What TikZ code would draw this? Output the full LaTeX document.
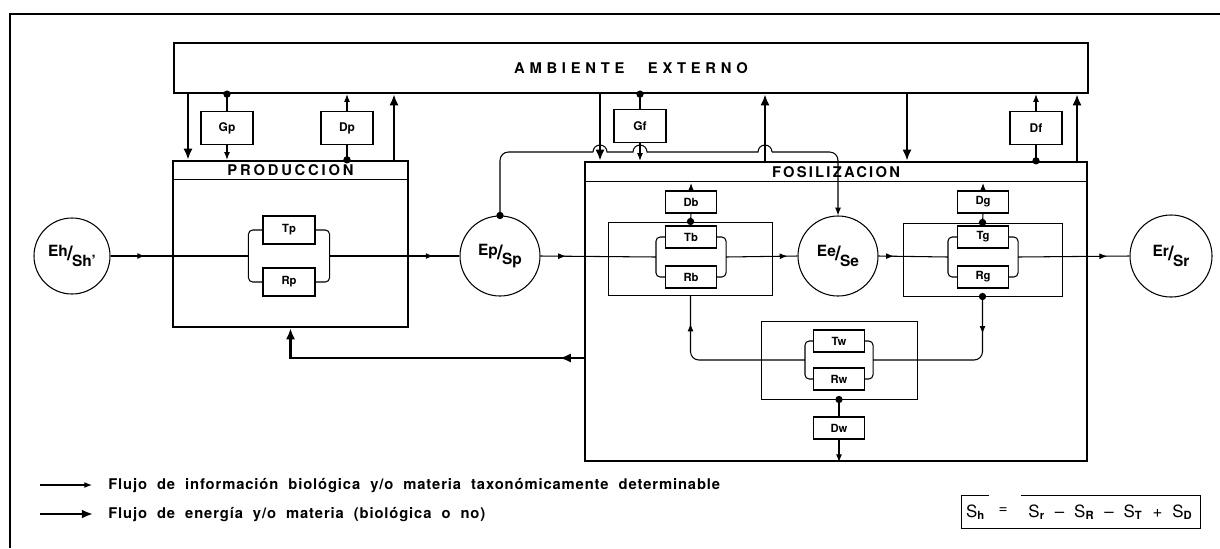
\documentclass[tikz,border=0pt]{standalone}
\usepackage{fontspec}
\setmainfont{TeX Gyre Heros}
\newfontfamily\legendfont{TeX Gyre Heros}[LetterSpace=6,WordSpace=2.0]
\usetikzlibrary{arrows.meta,calc,decorations.markings}

\newcommand{\ratio}[2]{\raisebox{3pt}{#1}\kern-0.5pt{\Large/}\kern-0.5pt\raisebox{-4pt}{#2}}
\newcommand{\headfont}[1]{\fontsize{10.5}{12}\selectfont\bfseries\addfontfeature{LetterSpace=#1}}

\begin{document}
\begin{tikzpicture}[x=0.025cm,y=-0.025cm,
  heavy/.style={line width=1.6pt},
  light/.style={line width=0.75pt},
  sysbox/.style={draw,heavy,inner sep=0pt},
  groupbox/.style={draw,line width=0.7pt,inner sep=0pt},
  ctrlbox/.style={draw,light,fill=white,minimum width=1.3cm,minimum height=0.825cm,
    font=\fontsize{8.5}{9}\selectfont\bfseries},
  subbox/.style={draw,light,fill=white,minimum width=1.275cm,minimum height=0.55cm,
    font=\fontsize{8}{9}\selectfont\bfseries},
  stock/.style={draw,light,circle,minimum size=2cm,inner sep=0pt,
    font=\fontsize{11}{12}\selectfont\bfseries},
  info/.style={light,-{Latex[length=5.5pt,width=4.2pt]}},
  energy/.style={heavy,-{Latex[length=8pt,width=6.5pt]}},
  infotip/.style={postaction={decorate,decoration={markings,
    mark=at position #1 with {\arrow{Latex[length=5.5pt,width=4.2pt]}}}}},
  energytip/.style={postaction={decorate,decoration={markings,
    mark=at position #1 with {\arrow{Latex[length=8pt,width=6.5pt]}}}}},
]
\useasboundingbox (0,0) rectangle (1220,548);
\draw[light] (10,548) -- (10,14) -- (1220,14);

% main blocks
\node[sysbox,minimum width=22.85cm,minimum height=1.25cm,font=\headfont{32}]
  (amb) at (631,68) {AMBIENTE\hspace{1.6em}EXTERNO};
\node[sysbox,minimum width=5.875cm,minimum height=4.15cm] (prod) at (290.5,244) {};
\node[sysbox,minimum width=12.55cm,minimum height=7.475cm] (fos) at (836,311.5) {};
\draw[light] ($(prod.north west)+(0,20)$) -- ($(prod.north east)+(0,20)$);
\draw[light] ($(fos.north west)+(0,21)$) -- ($(fos.north east)+(0,21)$);
\node[font=\headfont{19}] (prodtxt) at ($(prod.north)+(0,10)$) {PRODUCCION};
\node[font=\headfont{15}] (fostxt) at ($(fos.north)+(0,11)$) {FOSILIZACION};
\coordinate (fhead) at (0,183);

% control boxes
\node[ctrlbox] (Gp) at (227,128) {Gp};
\node[ctrlbox] (Dp) at (347,128) {Dp};
\node[ctrlbox] (Gf) at (640,126) {Gf};
\node[ctrlbox] (Df) at (1036,128) {Df};

% stocks
\node[stock,minimum size=1.9cm] (Eh) at (72,256) {\ratio{Eh}{Sh'}};
\node[stock] (Ep) at (500,256) {\ratio{Ep}{Sp}};
\node[stock] (Ee) at (838,256) {\ratio{Ee}{Se}};
\node[stock,minimum size=2.05cm] (Er) at (1171,256) {\ratio{Er}{Sr}};

% produccion interior
\node[subbox,minimum width=1.3cm,minimum height=0.7cm] (Tp) at (289,230) {Tp};
\node[subbox,minimum width=1.3cm,minimum height=0.7cm] (Rp) at (289,282) {Rp};

% fosilizacion interior
\node[groupbox,minimum width=4.075cm,minimum height=1.825cm] (bbox) at (690.5,258.5) {};
\node[subbox] (Db) at (691,202) {Db};
\node[subbox] (Tb) at (691,237) {Tb};
\node[subbox] (Rb) at (691,277) {Rb};
\node[groupbox,minimum width=3.975cm,minimum height=1.825cm] (gbox) at (982.5,259.5) {};
\node[subbox] (Dg) at (983,202) {Dg};
\node[subbox] (Tg) at (983,237) {Tg};
\node[subbox] (Rg) at (983,277) {Rg};
\node[groupbox,minimum width=3.9cm,minimum height=1.95cm] (wbox) at (839,360) {};
\node[subbox] (Tw) at (839,341) {Tw};
\node[subbox] (Rw) at (839,379) {Rw};
\node[subbox] (Dw) at (839,428) {Dw};

% parallel branches
\draw[light,rounded corners=3pt] (Tp.west) -- ++(-14,0) |- (Rp.west);
\draw[light,rounded corners=3pt] (Tp.east) -- ++(14,0) |- (Rp.east);
\draw[light,rounded corners=3pt] (Tb.west) -- ++(-9,0) |- (Rb.west);
\draw[light,rounded corners=3pt] (Tb.east) -- ++(9,0) |- (Rb.east);
\draw[light,rounded corners=3pt] (Tg.west) -- ++(-9,0) |- (Rg.west);
\draw[light,rounded corners=3pt] (Tg.east) -- ++(9,0) |- (Rg.east);
\draw[light,rounded corners=3pt] (Tw.west) -- ++(-8,0) |- (Rw.west);
\draw[light,rounded corners=3pt] (Tw.east) -- ++(8,0) |- (Rw.east);
\coordinate (pL) at ($(Tp.west)!0.5!(Rp.west)+(-14,0)$);
\coordinate (pR) at ($(Tp.east)!0.5!(Rp.east)+(14,0)$);
\coordinate (bL) at ($(Tb.west)!0.5!(Rb.west)+(-9,0)$);
\coordinate (bR) at ($(Tb.east)!0.5!(Rb.east)+(9,0)$);
\coordinate (gL) at ($(Tg.west)!0.5!(Rg.west)+(-9,0)$);
\coordinate (gR) at ($(Tg.east)!0.5!(Rg.east)+(9,0)$);
\coordinate (wL) at ($(Tw.west)!0.5!(Rw.west)+(-8,0)$);
\coordinate (wR) at ($(Tw.east)!0.5!(Rw.east)+(8,0)$);

% main flow
\draw[light,infotip=0.25] (Eh.east) -- (pL);
\draw[light,infotip=0.8] (pR) -- (Ep.west);
\draw[light,infotip=0.22] (Ep.east) -- (bL);
\draw[light,infotip=0.86] (bR) -- (Ee.west);
\draw[light,infotip=0.22] (Ee.east) -- (gL);
\draw[light,infotip=0.8] (gR) -- (Er.west);

% exchanges with the environment
\coordinate (pin) at (188,0);
\coordinate (pout) at (394,0);
\coordinate (fin) at (600,0);
\coordinate (fout) at (765,0);
\coordinate (fin2) at (907,0);
\coordinate (fout2) at (1077,0);
\draw[energy] (pin |- amb.south) -- (pin |- prod.north);
\draw[energy] (pout |- prod.north) -- (pout |- amb.south);
\draw[energy] (fin |- amb.south) -- (fin |- fos.north);
\draw[energy] (fout |- fos.north) -- (fout |- amb.south);
\draw[energy] (fin2 |- amb.south) -- (fin2 |- fos.north);
\draw[energy] (fout2 |- fos.north) -- (fout2 |- amb.south);

\fill (Gp.north |- amb.south) circle (2.6pt);
\draw[light] (Gp.north |- amb.south) -- (Gp.north);
\draw[info] (Gp.south) -- (Gp.south |- prod.north);
\fill (Dp.south |- prod.north) circle (2.6pt);
\draw[light] (Dp.south |- prod.north) -- (Dp.south);
\draw[info] (Dp.north) -- (Dp.north |- amb.south);
\fill (Gf.north |- amb.south) circle (2.6pt);
\draw[light] (Gf.north |- amb.south) -- (Gf.north);
\draw[info] (Gf.south) -- (Gf.south |- fos.north);
\fill (Df.south |- fos.north) circle (2.6pt);
\draw[light] (Df.south |- fos.north) -- (Df.south);
\draw[info] (Df.north) -- (Df.north |- amb.south);

% link Ep -> Ee over the vertical lines
\coordinate (hop) at (0,152);
\fill (Ep.north) circle (2.6pt);
\draw[light,rounded corners=6pt] (Ep.north) |- ($(fin |- hop)+(-7,0)$);
\draw[light] ($(fin |- hop)+(-7,0)$) arc[start angle=180,end angle=360,radius=7]
  -- ($(Gf.south |- hop)+(-7,0)$) arc[start angle=180,end angle=360,radius=7]
  -- ($(fout |- hop)+(-7,0)$) arc[start angle=180,end angle=360,radius=7];
\draw[info,rounded corners=6pt] ($(fout |- hop)+(7,0)$) -| (Ee.north);

% decay outputs
\fill (bbox.north) circle (2.6pt);
\draw[light] (bbox.north) -- (Db.south);
\draw[info] (Db.north) -- (Db.north |- fhead);
\fill (gbox.north) circle (2.6pt);
\draw[light] (gbox.north) -- (Dg.south);
\draw[info] (Dg.north) -- (Dg.north |- fhead);
\fill (wbox.south) circle (2.6pt);
\draw[light] (wbox.south) -- (Dw.north);
\draw[info] (Dw.south) -- (Dw.south |- fos.south);

% reworking loop
\fill (gbox.south) circle (2.6pt);
\draw[light,rounded corners=6pt,infotip=0.22] (gbox.south) |- (wR);
\draw[light,rounded corners=6pt,infotip=0.84] (wL) -| (bbox.south);

% energy back to produccion
\coordinate (back) at (0,358);
\draw[energy,energytip=0.075] (fos.west |- back) -| (prod.south);

% legend
\coordinate (l1a) at (40,485);
\coordinate (l1b) at (92,485);
\coordinate (l2a) at (40,514);
\coordinate (l2b) at (93,514);
\draw[info] (l1a) -- (l1b);
\draw[energy] (l2a) -- (l2b);
\node[anchor=west,inner sep=0pt,font=\legendfont\fontsize{10.5}{12}\selectfont\bfseries] (l1txt) at (108,486)
  {Flujo de información biológica y/o materia taxonómicamente determinable};
\node[anchor=west,inner sep=0pt,font=\legendfont\fontsize{10.5}{12}\selectfont\bfseries] (l2txt) at (108,515)
  {Flujo de energía y/o materia (biológica o no)};

% formula
\node[minimum width=0.675cm,minimum height=0.8cm,inner sep=0pt,font=\fontsize{12}{14}\selectfont]
  (shl) at (975.5,512) {S\textsubscript{\bfseries h}};
\node[inner sep=0pt,font=\fontsize{11}{13}\selectfont] (sheq) at (1003,511) {=};
\node[minimum width=4.475cm,minimum height=0.8cm,inner sep=0pt,text width=4.1cm,
  font=\fontsize{12}{14}\selectfont] (shr) at (1110.5,512)
  {S\textsubscript{\bfseries r}\hfill\textendash\hfill S\textsubscript{\bfseries R}\hfill\textendash\hfill
   S\textsubscript{\bfseries T}\hfill+\hfill S\textsubscript{\bfseries D}};
\draw[light] (shl.north east) -- (shl.north west) -- (shl.south west)
  -- (shr.south east) -- (shr.north east) -- (shr.north west);
\end{tikzpicture}
\end{document}
